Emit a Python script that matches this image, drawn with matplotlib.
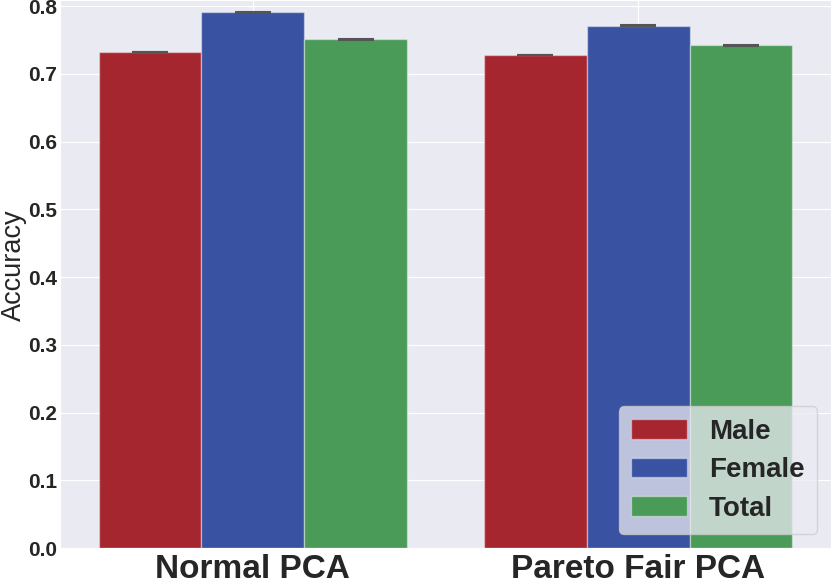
import matplotlib
matplotlib.use("Agg")
import matplotlib.pyplot as plt
import numpy as np
import seaborn as sns

methods = ["Normal PCA", "Pareto Fair PCA"]
groups = ["Male", "Female", "Total"]
male = [0.732, 0.728]
female = [0.791, 0.771]
total = [0.751, 0.742]
errors = [0.0005, 0.0005]

colors = ["#a6262f", "#3a52a2", "#4a9a58"]

sns.set_style("darkgrid")
plt.rcParams['font.family'] = ['Liberation Sans', 'DejaVu Sans']

fig = plt.figure(figsize=(8.31, 5.85), dpi=100)
ax = fig.add_axes([60 / 831, 37 / 585, 1 - 60 / 831, 1 - 37 / 585])

x = np.arange(len(methods))
width = 0.8 / 3
for i, (vals, name) in enumerate(zip([male, female, total], groups)):
    ax.bar(x + (i - 1) * width, vals, width, yerr=errors, color=colors[i],
           label=name, edgecolor=(1, 1, 1, 0.4), linewidth=1,
           error_kw=dict(ecolor="#555555", capsize=13, capthick=1.5, elinewidth=1.2))

ax.set_xlim(-0.5, 1.5)
ax.set_ylim(0, 0.809)
ax.set_xticks(x)
ax.set_xticklabels(methods, fontsize=24, fontweight='bold', color='#262626')
ax.set_yticks(np.arange(0, 0.81, 0.1))
ax.set_yticklabels([f"{v:.1f}" for v in np.arange(0, 0.81, 0.1)],
                   fontsize=15, fontweight='bold', color='#262626')
ax.tick_params(axis='x', length=0, pad=4)
ax.tick_params(axis='y', length=0, pad=2)
ax.set_ylabel("Accuracy", fontsize=19.5, color='#262626')
ax.yaxis.set_label_coords(-0.043, 0.516)

leg = ax.legend(loc='lower right', prop={'size': 20, 'weight': 'bold'},
                frameon=True, handlelength=2.0, handleheight=0.7,
                borderaxespad=0.5, handletextpad=0.8, labelspacing=0.45,
                borderpad=0.45, framealpha=0.75)
for t in leg.get_texts():
    t.set_color('#262626')

fig.savefig("out.png", dpi=100)
